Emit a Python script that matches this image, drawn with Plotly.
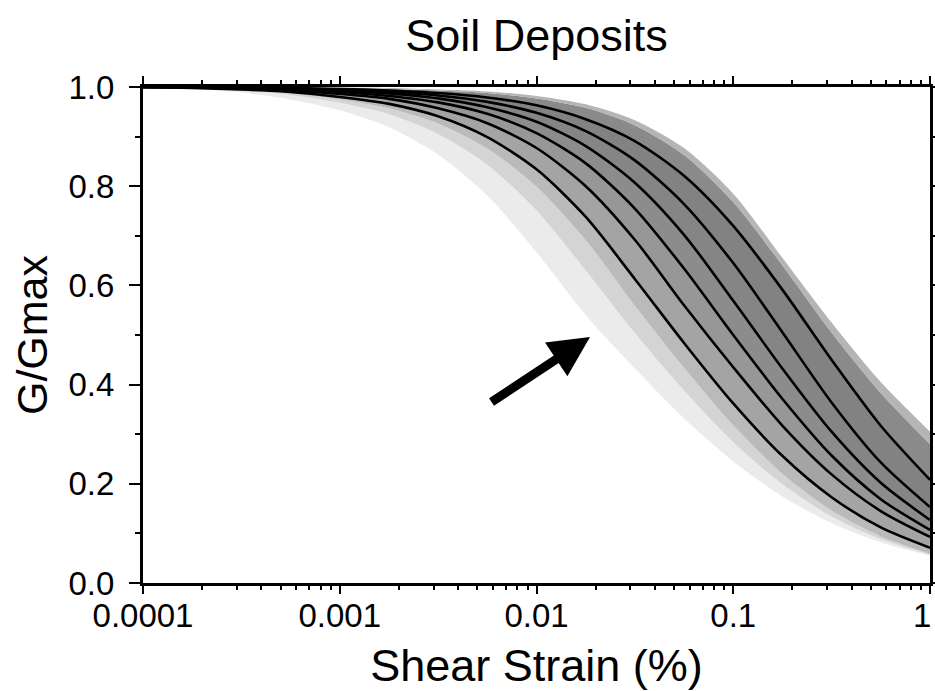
import plotly.graph_objects as go

# Shear strain (%) sample points, quarter-decade spacing
strain = [0.0001, 0.000178, 0.000316, 0.000562, 0.001, 0.00178, 0.00316, 0.00562,
          0.01, 0.0178, 0.0316, 0.0562, 0.1, 0.178, 0.316, 0.562, 1.0]

# Representative modulus reduction curves (G/Gmax), lowest to highest
curve_1 = [1.000, 0.998, 0.995, 0.990, 0.980, 0.966, 0.941, 0.899, 0.834, 0.738, 0.613, 0.484, 0.362, 0.256, 0.173, 0.112, 0.071]
curve_2 = [1.000, 0.999, 0.997, 0.993, 0.986, 0.976, 0.957, 0.927, 0.877, 0.800, 0.692, 0.560, 0.435, 0.317, 0.219, 0.145, 0.093]
curve_3 = [1.000, 0.999, 0.998, 0.995, 0.990, 0.982, 0.969, 0.946, 0.907, 0.846, 0.755, 0.634, 0.500, 0.371, 0.257, 0.169, 0.107]
curve_4 = [1.000, 1.000, 0.998, 0.996, 0.993, 0.987, 0.977, 0.959, 0.930, 0.881, 0.807, 0.702, 0.569, 0.432, 0.305, 0.202, 0.127]
curve_5 = [1.000, 1.000, 0.999, 0.997, 0.995, 0.990, 0.983, 0.970, 0.948, 0.911, 0.852, 0.764, 0.645, 0.505, 0.364, 0.243, 0.153]
curve_6 = [1.000, 1.000, 0.999, 0.998, 0.996, 0.993, 0.988, 0.979, 0.963, 0.935, 0.891, 0.821, 0.720, 0.591, 0.450, 0.317, 0.208]

# Envelopes of the randomized realizations (shaded spread)
low_outer  = [1.000, 0.996, 0.989, 0.975, 0.953, 0.919, 0.864, 0.781, 0.667, 0.540, 0.433, 0.332, 0.245, 0.174, 0.121, 0.082, 0.055]
low_mid    = [1.000, 0.997, 0.992, 0.984, 0.968, 0.945, 0.905, 0.843, 0.751, 0.630, 0.504, 0.388, 0.284, 0.199, 0.134, 0.088, 0.057]
low_inner  = [1.000, 0.998, 0.994, 0.987, 0.975, 0.957, 0.926, 0.876, 0.799, 0.691, 0.559, 0.434, 0.318, 0.220, 0.146, 0.094, 0.059]
high_inner = [1.000, 1.000, 1.000, 0.999, 0.998, 0.996, 0.993, 0.988, 0.977, 0.958, 0.923, 0.863, 0.768, 0.640, 0.505, 0.383, 0.280]
high_outer = [1.000, 1.000, 1.000, 1.000, 0.999, 0.998, 0.995, 0.991, 0.982, 0.965, 0.933, 0.877, 0.785, 0.655, 0.525, 0.405, 0.305]

x_tickvals = [0.0001, 0.001, 0.01, 0.1, 1]
x_ticktext = ["0.0001", "0.001", "0.01", "0.1", "1"]
y_tickvals = [0.0, 0.2, 0.4, 0.6, 0.8, 1.0]
y_ticktext = ["0.0", "0.2", "0.4", "0.6", "0.8", "1.0"]

FONT = "Liberation Sans, Arial, Helvetica, sans-serif"

fig = go.Figure()

# Stacked shaded bands, bottom to top; each fills down to the previous boundary
bands = [
    (low_outer, None),
    (low_mid, "#ebebeb"),
    (low_inner, "#d4d4d4"),
    (curve_1, "#bababa"),
    (curve_2, "#a4a4a4"),
    (curve_3, "#979797"),
    (curve_4, "#8c8c8c"),
    (curve_5, "#858585"),
    (curve_6, "#828282"),
    (high_inner, "#8a8a8a"),
    (high_outer, "#b5b5b5"),
]
for values, color in bands:
    fig.add_trace(go.Scatter(
        x=strain, y=values, mode="lines",
        line=dict(width=0, shape="spline", smoothing=0.8),
        fill="tonexty" if color else None,
        fillcolor=color,
        hoverinfo="skip", showlegend=False,
    ))

# Black representative curves on top
for values in [curve_1, curve_2, curve_3, curve_4, curve_5, curve_6]:
    fig.add_trace(go.Scatter(
        x=strain, y=values, mode="lines",
        line=dict(color="black", width=2.6, shape="spline", smoothing=0.8),
        showlegend=False,
    ))

x_minor = [m * 10 ** e for e in range(-4, 0) for m in range(2, 10)]

# The last tick label sits at the page edge; draw it right-aligned so it stays whole
edge_label = x_ticktext[-1]
axis_ticktext = x_ticktext[:-1] + [""]

fig.update_layout(
    width=935, height=691,
    margin=dict(l=143, r=5, t=87, b=108, autoexpand=False),
    paper_bgcolor="white", plot_bgcolor="white",
    font=dict(family=FONT, color="black"),
    title=dict(text="Soil Deposits", font=dict(size=45, family=FONT, color="black"),
               x=0.5, xref="paper", xanchor="center",
               y=1 - 35 / 691, yref="container", yanchor="middle"),
    xaxis=dict(
        type="log", range=[-4, 0], automargin=False,
        tickvals=x_tickvals, ticktext=axis_ticktext,
        tickfont=dict(size=33), ticks="outside", ticklen=8, tickwidth=2, tickcolor="black",
        showline=True, linewidth=3, linecolor="black", mirror="allticks",
        showgrid=False, zeroline=False,
        minor=dict(tickvals=x_minor, ticks="outside", ticklen=4, tickwidth=1.5, tickcolor="black", showgrid=False),
        title=dict(text="Shear Strain (%)", font=dict(size=45), standoff=19),
        ticklabelstandoff=-7,
    ),
    yaxis=dict(
        range=[0, 1], automargin=False,
        tickvals=y_tickvals, ticktext=y_ticktext,
        tickfont=dict(size=33), ticks="outside", ticklen=11, tickwidth=2, tickcolor="black",
        showline=True, linewidth=3, linecolor="black", mirror="allticks",
        showgrid=False, zeroline=False,
        minor=dict(dtick=0.1, ticks="outside", ticklen=5, tickwidth=1.5, tickcolor="black", showgrid=False),
        title=dict(text="G/Gmax", font=dict(size=43), standoff=8),
        ticklabelstandoff=8,
    ),
    annotations=[
        dict(
            x=-1.728, y=0.496, xref="x", yref="y",
            ax=-100, ay=66, axref="pixel", ayref="pixel",
            text="", showarrow=True,
            arrowhead=2, arrowsize=0.9, arrowwidth=9, arrowcolor="black", standoff=0,
        ),
        dict(
            x=1, y=0, xref="paper", yref="paper",
            text=edge_label, showarrow=False,
            xanchor="right", yanchor="middle", xshift=3, yshift=-32,
            font=dict(size=33, family=FONT, color="black"),
        ),
    ],
)

fig.write_html("out.html")
